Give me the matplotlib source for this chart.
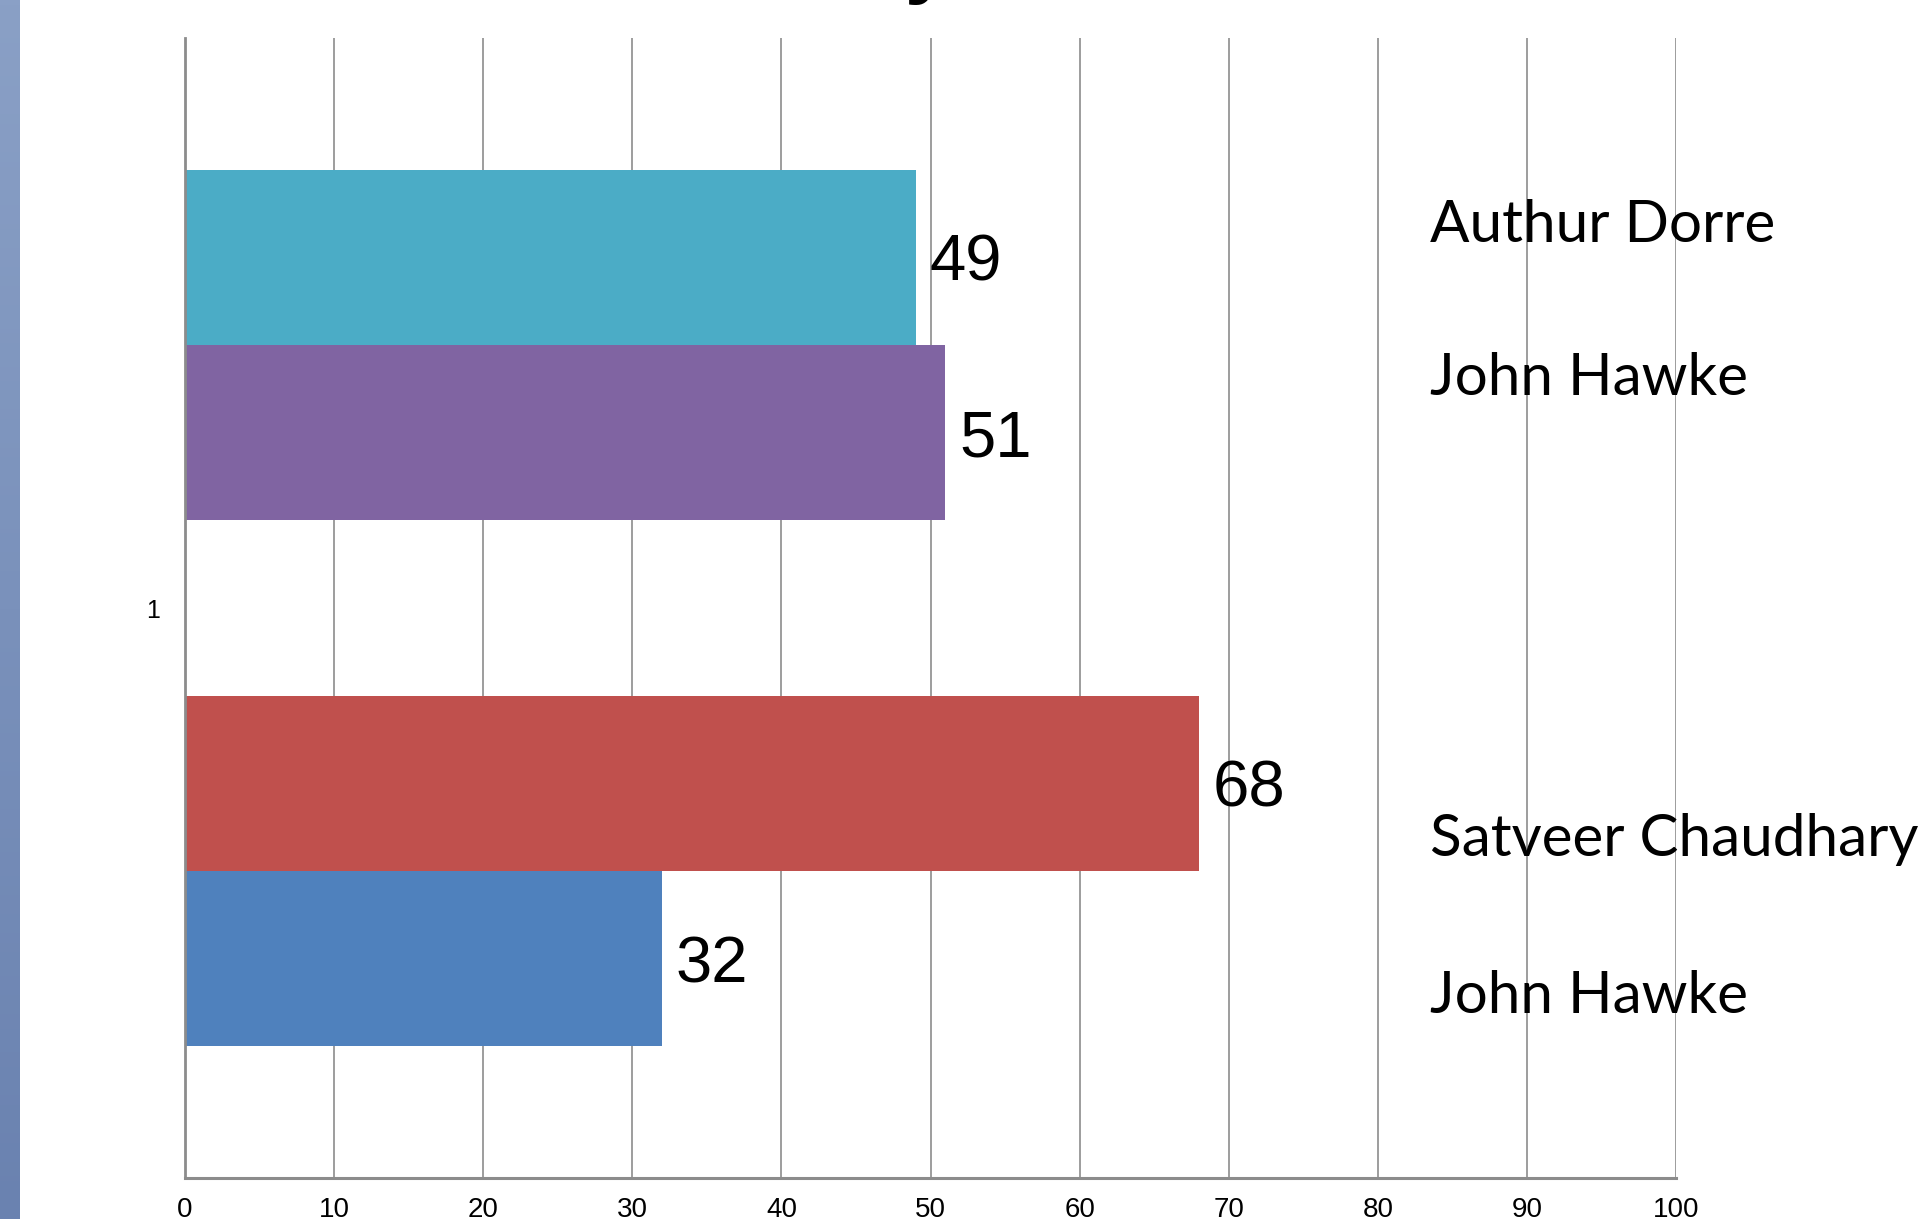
from matplotlib import pyplot as plt
from matplotlib.colors import LinearSegmentedColormap
import numpy as np

# dane z wykresu
category_labels = ['1']
series_names = ['Authur Dorre', 'John Hawke', 'Satveer Chaudhary', 'John Hawke']
series_values = [49, 51, 68, 32]
series_colors = ['#4BACC6', '#8064A2', '#C0504D', '#4F81BD']
x_ticks = list(range(0, 101, 10))

W, H = 1928, 1219
fig = plt.figure(figsize=(W / 100, H / 100), dpi=100)

# pasek z lewej strony (gradient)
strip = fig.add_axes([0, 0, 20 / W, 1])
strip_cmap = LinearSegmentedColormap.from_list('strip', ['#8aa0c6', '#6a82b0'])
strip.imshow(np.linspace(0, 1, 256).reshape(-1, 1), aspect='auto', cmap=strip_cmap)
strip.set_axis_off()

# obszar wykresu
left, right, top, bottom = 185, 1676, 38, 1178
ax = fig.add_axes([left / W, 1 - bottom / H, (right - left) / W, (bottom - top) / H])

# pozycje słupków względem kategorii (przerwa pośrodku)
slots = [2, 1, -1, -2]
ax.barh(slots, series_values, height=1, color=series_colors, zorder=2)

for pos, val in zip(slots, series_values):
    ax.annotate(str(val), (val, pos), xytext=(10, 0), textcoords='offset points',
                va='center_baseline', ha='left', fontsize=47, family='Liberation Sans')

ax.set_xlim(0, 100)
ax.set_ylim(-3.25, 3.25)
ax.set_xticks(x_ticks)
ax.set_xticklabels([str(t) for t in x_ticks], family='Liberation Sans', fontsize=20)
ax.set_yticks([0])
ax.set_yticklabels(category_labels, family='Liberation Sans', fontsize=18)
ax.tick_params(axis='x', length=0, pad=14)
ax.tick_params(axis='y', length=0, pad=18)

ax.xaxis.grid(True, color='#8c8c8c', linewidth=1.2, zorder=1)
ax.set_axisbelow(True)
for side in ['top', 'right']:
    ax.spines[side].set_visible(False)
ax.spines['left'].set_color('#8c8c8c')
ax.spines['left'].set_linewidth(2)
ax.spines['bottom'].set_color('#8c8c8c')
ax.spines['bottom'].set_linewidth(2.2)

# podpisy po prawej stronie (pola tekstowe)
name_baselines = [242, 395, 856, 1013]
for name, b in zip(series_names, name_baselines):
    ax.text((1430 - left) / (right - left), (bottom - b) / (bottom - top), name,
            transform=ax.transAxes, ha='left', va='baseline', fontsize=42,
            family='Lato', clip_on=False)

# tytuł ucięty u góry - widać tylko ogonek litery "y"
fig.text(952 / W, 1.0098, 'Survey', ha='right', va='baseline',
         fontsize=60, weight='bold', family='Liberation Sans')

fig.savefig('out.png', dpi=100, facecolor='white')
